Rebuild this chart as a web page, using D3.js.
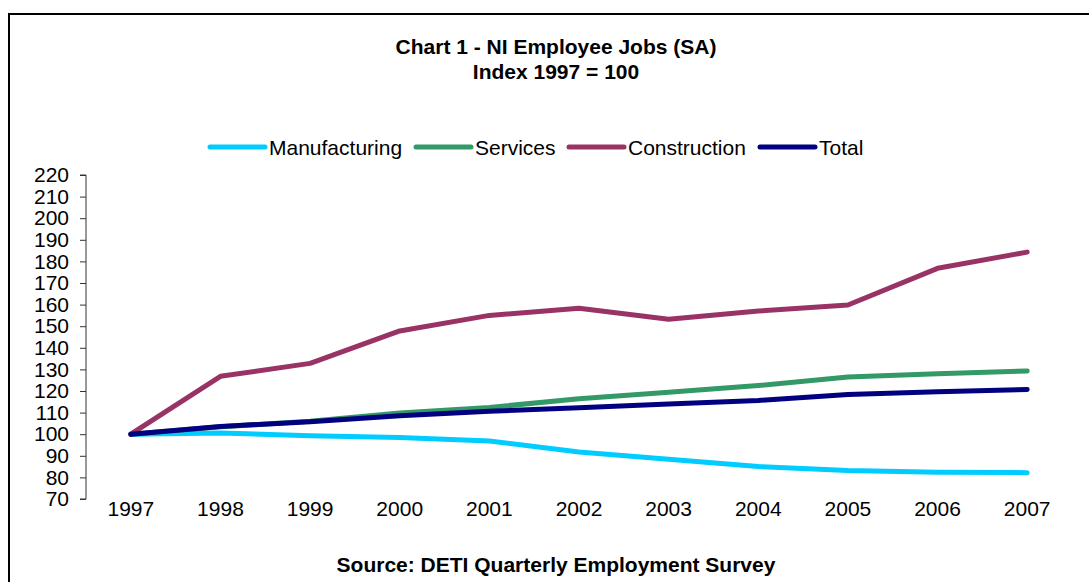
<!DOCTYPE html>
<html>
<head>
<meta charset="utf-8">
<script src="https://cdn.jsdelivr.net/npm/d3@7"></script>
<style>
  body { margin: 0; background: #fff; }
  text { font-family: Arial, "Liberation Sans", sans-serif; fill: #000; }
</style>
</head>
<body>
<div id="chart"></div>
<script>
// chart data, index 1997 = 100
let years = ['1997', '1998', '1999', '2000', '2001', '2002', '2003', '2004', '2005', '2006', '2007'];
let manufacturing = [100, 100.6, 99.3, 98.5, 96.9, 91.8, 88.4, 85.0, 83.2, 82.4, 82.2];
let services = [100, 103.4, 106.0, 109.8, 112.4, 116.4, 119.4, 122.5, 126.5, 128.0, 129.3];
let construction = [100, 126.8, 132.8, 147.8, 155.0, 158.3, 153.2, 157.0, 159.8, 176.8, 184.3];
let total = [100, 103.6, 105.8, 108.5, 110.6, 112.2, 114.0, 115.6, 118.4, 119.7, 120.7];
let yTicks = d3.range(70, 221, 10);

let series = [
  { name: 'Manufacturing', values: manufacturing, color: '#00ccff' },
  { name: 'Services', values: services, color: '#339966' },
  { name: 'Construction', values: construction, color: '#993366' },
  { name: 'Total', values: total, color: '#000080' }
];

let width = 1089;
let height = 582;

let svg = d3.select('#chart')
  .append('svg')
  .attr('width', width)
  .attr('height', height);

// chart area border (runs off the right and bottom edges)
svg.append('rect')
  .attr('x', 9)
  .attr('y', 14)
  .attr('width', 1200)
  .attr('height', 700)
  .attr('fill', 'none')
  .attr('stroke', '#000')
  .attr('stroke-width', 2);

// title
let titleX = 556;
svg.append('text')
  .attr('x', titleX).attr('y', 54)
  .attr('text-anchor', 'middle')
  .style('font-size', '21px').style('font-weight', 'bold')
  .text('Chart 1 - NI Employee Jobs (SA)');
svg.append('text')
  .attr('x', titleX).attr('y', 79)
  .attr('text-anchor', 'middle')
  .style('font-size', '21px').style('font-weight', 'bold')
  .text('Index 1997 = 100');

svg.append('text')
  .attr('x', titleX).attr('y', 572)
  .attr('text-anchor', 'middle')
  .style('font-size', '21px').style('font-weight', 'bold')
  .text('Source: DETI Quarterly Employment Survey');

// scales
let x = d3.scaleBand()
  .domain(years)
  .range([86, 1072]);

let y = d3.scaleLinear()
  .domain([70, 220])
  .range([499, 175]);

// y axis
let yAxis = svg.append('g')
  .attr('transform', 'translate(86,0)')
  .call(d3.axisLeft(y).tickValues(yTicks).tickSize(6).tickPadding(11));
yAxis.select('.domain').attr('stroke', '#333').attr('d', 'M-6,' + y(220) + 'H0V' + y(70) + 'H-6');
yAxis.selectAll('line').attr('stroke', '#333');
yAxis.selectAll('text')
  .style('font-size', '21px')
  .style('font-family', 'Arial, "Liberation Sans", sans-serif')
  .attr('fill', '#000');

// x labels (no axis line drawn)
svg.append('g')
  .selectAll('text')
  .data(years)
  .enter()
  .append('text')
  .attr('x', function(d) { return x(d) + x.bandwidth() / 2; })
  .attr('y', 516)
  .attr('text-anchor', 'middle')
  .style('font-size', '21px')
  .text(function(d) { return d; });

// lines
let line = d3.line()
  .x(function(d, i) { return x(years[i]) + x.bandwidth() / 2; })
  .y(function(d) { return y(d); });

svg.append('g')
  .selectAll('path')
  .data(series)
  .enter()
  .append('path')
  .attr('d', function(d) { return line(d.values); })
  .attr('fill', 'none')
  .attr('stroke', function(d) { return d.color; })
  .attr('stroke-width', 5)
  .attr('stroke-linejoin', 'round')
  .attr('stroke-linecap', 'round');

// legend
let legendX = [210, 416, 569, 760];
let legend = svg.append('g')
  .selectAll('g')
  .data(series)
  .enter()
  .append('g')
  .attr('transform', function(d, i) { return 'translate(' + legendX[i] + ',147)'; });

legend.append('line')
  .attr('x1', 0).attr('x2', 55)
  .attr('y1', 0).attr('y2', 0)
  .attr('stroke', function(d) { return d.color; })
  .attr('stroke-width', 5)
  .attr('stroke-linecap', 'round');

legend.append('text')
  .attr('x', 59)
  .attr('y', 7.5)
  .style('font-size', '21px')
  .text(function(d) { return d.name; });
</script>
</body>
</html>
